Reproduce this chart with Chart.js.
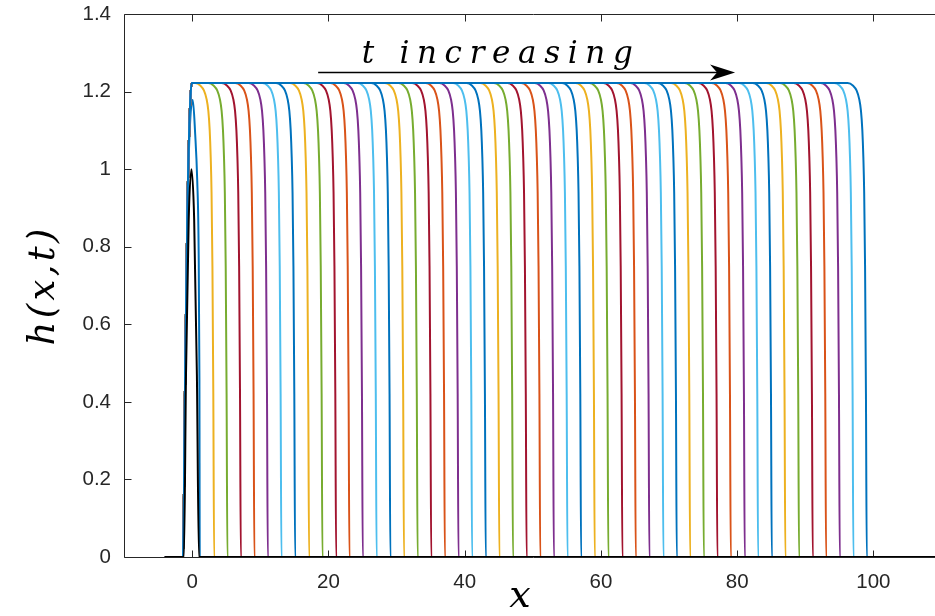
<!DOCTYPE html>
<html>
<head>
<meta charset="utf-8">
<script src="https://cdn.jsdelivr.net/npm/chart.js@4.4.1/dist/chart.umd.min.js"></script>
<style>
  html, body { margin: 0; padding: 0; background: #ffffff; overflow: hidden; }
  #wrap { width: 950px; height: 616px; position: relative; }
</style>
</head>
<body>
<div id="wrap"><canvas id="c" width="950" height="616"></canvas></div>
<script>
// ---------------- data ----------------
const xTicks = [0, 20, 40, 60, 80, 100];
const xTickLabels = ['0', '20', '40', '60', '80', '100'];
const yTicks = [0, 0.2, 0.4, 0.6, 0.8, 1, 1.2, 1.4];
const yTickLabels = ['0', '0.2', '0.4', '0.6', '0.8', '1', '1.2', '1.4'];

// initial condition h(x,0) (black)
const initialX = [-4, -1.2, -0.9, -0.5, -0.1, 0.3, 0.7, 1.0, 110];
const initialH = [0, 0, 0.47, 0.87, 1.0, 0.87, 0.47, 0, 0];

// first profile after start (blue, peak ~1.18)
const earlyX = [-4, -1.35, -1.03, -0.69, -0.3, 0.1, 0.45, 0.75, 0.95, 1.07, 1.12, 110];
const earlyH = [0, 0, 0.456, 0.895, 1.12, 1.178, 1.09, 0.97, 0.8, 0.456, 0, 0];

// shared rising left edge of the plateau profiles
const riseX = [-4, -1.35, -1.03, -0.69, -0.29, -0.05];
const riseH = [0, 0, 0.456, 0.895, 1.17, 1.222];

// front shape: offset from the foot of the front, and height
const frontDX = [-2.8, -2.0, -1.5, -1.1, -0.85, -0.65, -0.5, -0.38, -0.25, -0.12, 0];
const frontH = [1.222, 1.215, 1.203, 1.18, 1.15, 1.1, 1.03, 0.94, 0.75, 0.42, 0];

// foot of each travelling front (x where h reaches 0), in time order
const frontPositions = [3.23, 5.18, 7.15, 9.14, 11.11, 13.11, 15.12, 17.17, 19.13, 21.14,
  23.09, 25.05, 27.08, 29.1, 31.1, 33.1, 35.1, 37.1, 39.1, 41.1,
  43.1, 45.1, 47.1, 49.1, 51.1, 53.1, 55.1, 57.1, 59.1, 61.1,
  63.16, 65.12, 67.12, 69.18, 71.14, 73.10, 75.11, 77.10, 79.07, 81.12,
  83.08, 85.09, 87.08, 89.09, 91.10, 93.06, 95.07, 97.07, 99.03];
const domainEnd = 110;

// ---------------- styles ----------------
const palette = ['#0072BD', '#EDB120', '#77AC30', '#A2142F', '#D95319', '#7E2F8E', '#4DBEEE'];
const axisColor = '#262626';
const mathFont = '"DejaVu Serif", "Liberation Serif", serif';

function pts(xs, hs) { return xs.map((x, j) => ({ x: x, y: hs[j] })); }

const datasets = [];
datasets.push({ data: pts(initialX, initialH), borderColor: '#000000', order: -1000 });
datasets.push({ data: pts(earlyX, earlyH), borderColor: palette[0], order: 0 });
frontPositions.forEach((s, k) => {
  const i = k + 1;
  const xs = riseX.concat(frontDX.map(d => s + d), [domainEnd]);
  const hs = riseH.concat(frontH, [0]);
  datasets.push({ data: pts(xs, hs), borderColor: palette[i % palette.length], order: -i });
});
datasets.forEach(d => {
  d.borderWidth = 2;
  d.pointRadius = 0;
  d.fill = false;
  d.cubicInterpolationMode = 'monotone';
});

const boxPlugin = {
  id: 'box',
  beforeDatasetsDraw(chart) {
    const { ctx, chartArea: a, scales } = chart;
    ctx.save();
    ctx.strokeStyle = axisColor;
    ctx.lineWidth = 1;
    const L = Math.round(a.left) + 0.5, R = Math.round(a.right) + 0.5;
    const T = Math.round(a.top) + 0.5, B = Math.round(a.bottom) + 0.5;
    ctx.beginPath();
    ctx.rect(L, T, R - L, B - T);
    ctx.stroke();
    const tl = 7;
    ctx.beginPath();
    xTicks.forEach(v => {
      const px = Math.round(scales.x.getPixelForValue(v)) + 0.5;
      ctx.moveTo(px, B); ctx.lineTo(px, B - tl);
      ctx.moveTo(px, T); ctx.lineTo(px, T + tl);
    });
    yTicks.forEach(v => {
      const py = Math.round(scales.y.getPixelForValue(v)) + 0.5;
      ctx.moveTo(L, py); ctx.lineTo(L + tl, py);
      ctx.moveTo(R, py); ctx.lineTo(R - tl, py);
    });
    ctx.stroke();
    ctx.restore();
  },
  afterDraw(chart) {
    const { ctx, scales } = chart;
    ctx.save();
    ctx.fillStyle = '#000000';
    ctx.strokeStyle = '#000000';
    function spaced(text, font, target, x0, y0, rot) {
      ctx.save();
      ctx.font = font;
      ctx.letterSpacing = '0px';
      const natural = ctx.measureText(text).width;
      const w = Math.max(target, natural);
      const gap = text.length > 1 ? (w - natural) / (text.length - 1) : 0;
      ctx.translate(x0, y0);
      ctx.rotate(rot);
      ctx.letterSpacing = gap + 'px';
      ctx.textAlign = 'left';
      ctx.textBaseline = 'alphabetic';
      ctx.fillText(text, -w / 2, 0);
      ctx.restore();
    }
    // annotation: t increasing + arrow
    const ax0 = scales.x.getPixelForValue(18.5), ax1 = scales.x.getPixelForValue(79.7);
    const ay = Math.round(scales.y.getPixelForValue(1.251)) + 0.5;
    ctx.lineWidth = 1.3;
    ctx.beginPath();
    ctx.moveTo(ax0, ay); ctx.lineTo(ax1 - 12, ay);
    ctx.stroke();
    ctx.beginPath();
    ctx.moveTo(ax1, ay);
    ctx.lineTo(ax1 - 25, ay - 8);
    ctx.lineTo(ax1 - 18, ay);
    ctx.lineTo(ax1 - 25, ay + 8);
    ctx.closePath();
    ctx.fill();
    spaced('t increasing', 'italic 31px ' + mathFont, 271,
      scales.x.getPixelForValue(44.8), scales.y.getPixelForValue(1.274), 0);
    // axis titles
    spaced('x', 'italic 38px ' + mathFont, 0, 520, 607, 0);
    spaced('h(x,t)', 'italic 37px ' + mathFont, 117, 54, 287, -Math.PI / 2);
    ctx.restore();
  }
};

new Chart(document.getElementById('c'), {
  type: 'line',
  data: { datasets: datasets },
  options: {
    responsive: false,
    animation: false,
    layout: { padding: { top: 14, right: 8.5, left: 0, bottom: 0 } },
    plugins: { legend: { display: false }, tooltip: { enabled: false } },
    scales: {
      x: {
        type: 'linear', min: -10, max: 110,
        grid: { display: false, drawTicks: false, tickLength: 0 },
        border: { display: false },
        afterFit(s) { s.height = 59; s.paddingLeft = 0; s.paddingRight = 0; },
        afterBuildTicks(s) { s.ticks = xTicks.map(v => ({ value: v })); },
        ticks: {
          padding: 13, color: axisColor, maxRotation: 0, autoSkip: false,
          font: { family: '"Liberation Sans", Arial, sans-serif', size: 20.5 },
          callback: (v) => xTickLabels[xTicks.indexOf(v)]
        }
      },
      y: {
        type: 'linear', min: 0, max: 1.4,
        grid: { display: false, drawTicks: false, tickLength: 0 },
        border: { display: false },
        afterFit(s) { s.width = 124; s.paddingTop = 0; s.paddingBottom = 0; },
        afterBuildTicks(s) { s.ticks = yTicks.map(v => ({ value: v })); },
        ticks: {
          padding: 13, color: axisColor, autoSkip: false,
          font: { family: '"Liberation Sans", Arial, sans-serif', size: 20.5 },
          callback: (v) => yTickLabels[yTicks.indexOf(v)]
        }
      }
    }
  },
  plugins: [boxPlugin]
});
</script>
</body>
</html>
